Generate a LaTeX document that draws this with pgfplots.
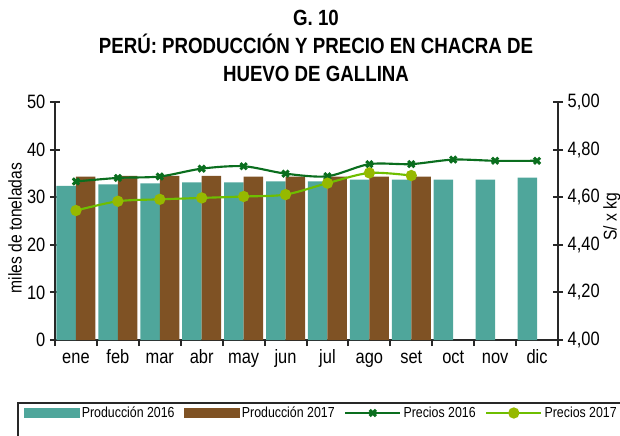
\documentclass[border=0pt]{standalone}
\usepackage{pgfplots}
\pgfplotsset{compat=1.18}
\usepackage{fontspec}
\setmainfont{Liberation Sans}[FakeStretch=0.85]
\definecolor{teal16}{RGB}{79,166,155}
\definecolor{brown17}{RGB}{127,82,36}
\definecolor{dkgreen}{RGB}{10,110,30}
\definecolor{ltgreen}{RGB}{110,190,0}
\definecolor{olivegr}{RGB}{150,185,0}
\definecolor{axisgray}{RGB}{40,40,40}
\begin{document}
\begin{tikzpicture}
\path[use as bounding box] (-41.25pt,-71.25pt) rectangle (423.75pt,255pt);
\pgfplotsset{
  base/.style={scale only axis, width=377.25pt, height=178.5pt, xmin=-0.5, xmax=11.5,
    axis line style={axisgray, line width=1.5pt},
    tick style={axisgray, line width=1.5pt},
    tick align=center, major tick length=7.5pt,
    ticklabel style={font=\fontsize{14.5}{16}\selectfont},
    /pgf/number format/assume math mode=true,
  },
  patchleg/.style={legend image code/.code={\fill[#1] (0pt,-3.4pt) rectangle (41pt,3.4pt);}},
}
\begin{axis}[base, axis x line*=bottom, axis y line*=left, ymin=0, ymax=50, ytick={0,10,20,30,40,50},
  xtick={0,...,11}, xticklabels={ene,feb,mar,abr,may,jun,jul,ago,set,oct,nov,dic},
  xticklabel style={text height=10.5pt, text depth=3pt},
  major x tick style={draw=none},
  minor xtick={-0.5,0.5,...,11.5}, minor x tick style={yshift=-2.25pt}, minor tick length=4.5pt,
  ylabel={miles de toneladas},
  ylabel style={at={(axis description cs:-0.0795,0.47)}, anchor=center, font=\fontsize{13.8}{16}\selectfont},
  ]
\addplot[ybar, bar width=0.465, bar shift=-0.2325, fill=teal16, draw=none] coordinates {
(0,32.4) (1,32.7) (2,32.9) (3,33.1) (4,33.1) (5,33.3) (6,33.3) (7,33.7) (8,33.7) (9,33.7) (10,33.7) (11,34.1)};
\addplot[ybar, bar width=0.465, bar shift=0.2325, fill=brown17, draw=none] coordinates {
(0,34.3) (1,34.5) (2,34.5) (3,34.5) (4,34.3) (5,34.3) (6,34.3) (7,34.3) (8,34.3)};
\end{axis}
\begin{axis}[base, axis x line=none, axis y line*=right, ymin=4, ymax=5, ytick={4,4.2,4.4,4.6,4.8,5},
  yticklabel style={/pgf/number format/.cd, fixed, fixed zerofill, precision=2, use comma},
  ylabel={S/ x kg},
  ylabel style={at={(axis description cs:1.107,0.517)}, anchor=center, font=\fontsize{13.8}{16}\selectfont},
  legend style={at={(axis description cs:-0.0616,-0.3067)}, anchor=west, draw=none, fill=none,
    inner sep=0pt, font=\fontsize{10.9}{13}\selectfont, nodes={inner xsep=1.8pt},
    /tikz/every even column/.append style={column sep=5.5pt}},
  legend columns=4,
  legend image code/.code={\draw[mark repeat=2,mark phase=2,#1] plot coordinates {(0pt,0pt) (20.5pt,0pt) (41pt,0pt)};},
  ]
\addlegendimage{patchleg=teal16}
\addlegendentry{Producción 2016}
\addlegendimage{patchleg=brown17}
\addlegendentry{Producción 2017}
\addplot[dkgreen, line width=1.6pt, smooth, tension=0.5, mark=x, mark size=3.3pt, mark options={line width=2.2pt, solid}] coordinates {
(0,4.666) (1,4.681) (2,4.687) (3,4.720) (4,4.730) (5,4.699) (6,4.688) (7,4.739) (8,4.739) (9,4.758) (10,4.753) (11,4.753)};
\addlegendentry{Precios 2016}
\addplot[ltgreen, line width=1.6pt, smooth, tension=0.5, mark=*, mark size=3.4pt, mark options={fill=olivegr, draw=olivegr, solid}] coordinates {
(0,4.544) (1,4.583) (2,4.591) (3,4.597) (4,4.603) (5,4.611) (6,4.659) (7,4.702) (8,4.691)};
\addlegendentry{Precios 2017}
\end{axis}
\node[align=center, font=\bfseries\fontsize{16.5}{21}\selectfont] at (195.75pt,220.5pt) {G. 10\\PERÚ: PRODUCCIÓN Y PRECIO EN CHACRA DE\\HUEVO DE GALLINA};
\draw[axisgray, line width=1pt] (-27.75pt,-47.25pt) rectangle (520pt,-120pt);
\end{tikzpicture}
\end{document}
